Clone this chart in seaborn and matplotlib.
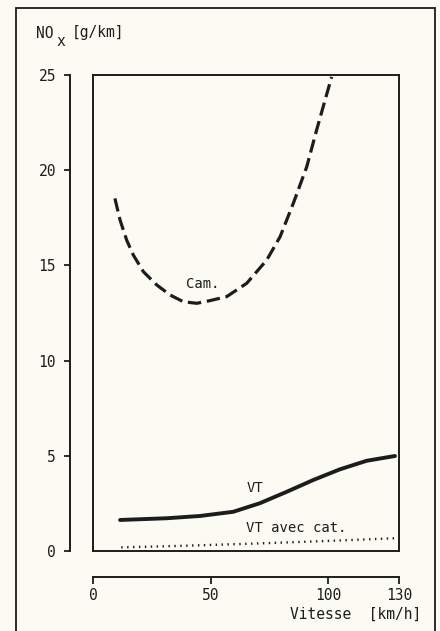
import matplotlib
matplotlib.use("Agg")
import matplotlib.pyplot as plt
import pandas as pd
import seaborn as sns
from matplotlib.patches import Rectangle

# values (speed in km/h, NOx in g/km)
cam_speed = [9.3, 11.5, 14.3, 17.1, 21.4, 27.1, 32.7, 38.4, 44.1, 49.7,
             56.8, 65.3, 73.8, 79.5, 85.1, 90.8, 95.0, 98.6, 101.4]
cam_nox = [18.52, 17.38, 16.33, 15.55, 14.67, 13.97, 13.45, 13.09, 13.01, 13.15,
           13.36, 14.06, 15.28, 16.51, 18.26, 20.18, 22.11, 23.69, 24.9]

vt_speed = [11.5, 31.3, 45.5, 59.6, 70.9, 82.3, 93.6, 104.9, 116.3, 128.3]
vt_nox = [1.63, 1.72, 1.84, 2.06, 2.51, 3.11, 3.73, 4.29, 4.74, 4.99]

cat_speed = [12, 40, 71, 100, 128]
cat_nox = [0.19, 0.28, 0.40, 0.53, 0.67]

x_ticks = [0, 50, 100, 130]
y_ticks = [0, 5, 10, 15, 20, 25]

BG = "#fbfbf4"
INK = "#1c1c1c"

sns.set_theme(style="white")
plt.rcParams["font.family"] = ["DejaVu Sans Mono", "DejaVu Sans"]
plt.rcParams["text.color"] = INK

fig = plt.figure(figsize=(4.4, 6.31), dpi=100, facecolor=BG)
W, H = 440, 631

# outer frame of the figure (runs off the bottom edge)
fig.patches.append(Rectangle((16 / W, -0.05), (419 / W), (H - 8) / H + 0.05,
                             transform=fig.transFigure, fill=False,
                             edgecolor=INK, linewidth=1.3))

ax = fig.add_axes([93 / W, (H - 551) / H, 306 / W, 476 / H], facecolor=BG)

cam = pd.DataFrame({"speed": cam_speed, "nox": cam_nox})
vt = pd.DataFrame({"speed": vt_speed, "nox": vt_nox})
cat = pd.DataFrame({"speed": cat_speed, "nox": cat_nox})

sns.lineplot(data=cam, x="speed", y="nox", ax=ax, color=INK, linewidth=2.3,
             linestyle=(0, (4.2, 1.8)))
sns.lineplot(data=vt, x="speed", y="nox", ax=ax, color=INK, linewidth=2.8)
sns.lineplot(data=cat, x="speed", y="nox", ax=ax, color=INK, linewidth=1.7,
             linestyle=(0, (0.6, 1.9)))

ax.set_xlim(0, 130)
ax.set_ylim(0, 25)
ax.set_xticks([])
ax.set_yticks([])
ax.set_xlabel("")
ax.set_ylabel("")
for sp in ax.spines.values():
    sp.set_visible(True)
    sp.set_color(INK)
    sp.set_linewidth(1.4)

ax.text(46.5, 14.0, "Cam.", ha="center", va="center", fontsize=10)
ax.text(69, 3.3, "VT", ha="center", va="center", fontsize=10)
ax.text(65, 1.2, "VT avec cat.", ha="left", va="center", fontsize=10)

# detached y scale
ay = ax.secondary_yaxis(-23 / 306)
ay.set_yticks(y_ticks)
ay.spines["left"].set_linewidth(1.4)
ay.spines["left"].set_color(INK)
ay.tick_params(axis="y", direction="out", length=4, width=1.3, colors=INK,
               labelsize=10.5, pad=6)

# detached x scale
axx = ax.secondary_xaxis(-26 / 476)
axx.set_xticks(x_ticks)
axx.spines["bottom"].set_linewidth(1.4)
axx.spines["bottom"].set_color(INK)
axx.tick_params(axis="x", direction="out", length=5, width=1.3, colors=INK,
                labelsize=10.5, pad=3)

fig.text(36 / W, 1 - 33 / H, "NO", fontsize=10.5, va="center", ha="left")
fig.text(56 / W, 1 - 41 / H, "x", fontsize=10.5, va="center", ha="left")
fig.text(72 / W, 1 - 33 / H, "[g/km]", fontsize=10.5, va="center", ha="left")
fig.text(421 / W, 1 - 614 / H, "Vitesse  [km/h]", fontsize=10.5,
         va="center", ha="right")

fig.savefig("out.png", dpi=100, facecolor=BG)
